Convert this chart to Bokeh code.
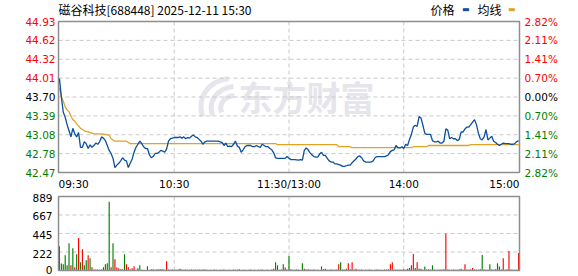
from bokeh.plotting import figure
from bokeh.models import Range1d, Label
from bokeh.layouts import column
from bokeh.embed import file_html
from bokeh.resources import INLINE

# ---------------- data ----------------
price = [
    44.00, 43.70, 43.45, 43.37, 43.25, 43.15, 43.05, 43.19, 43.10, 43.05,
    43.12, 42.88, 42.88, 42.97, 42.94, 42.86, 42.92, 42.88, 42.91, 42.95,
    42.93, 42.97, 43.05, 43.03, 42.99, 42.91, 42.83, 42.78, 42.70, 42.55,
    42.59, 42.62, 42.66, 42.71, 42.67, 42.66, 42.55, 42.62, 42.69, 42.80,
    42.88, 42.93, 42.98, 42.94, 42.89, 42.86, 42.86, 42.76, 42.71, 42.73,
    42.78, 42.78, 42.80, 42.83, 42.82, 42.80, 42.85, 42.98, 43.02, 43.03,
    43.04, 43.04, 43.04, 43.05, 43.03, 43.05, 43.02, 43.04, 43.03, 43.06,
    43.08, 43.05, 43.04, 43.01, 42.98, 42.93, 42.97, 42.98, 42.98, 42.98,
    42.98, 42.98, 42.98, 42.98, 42.97, 42.96, 42.91, 42.95, 42.89, 42.90,
    42.89, 42.93, 42.98, 42.90, 42.88, 42.80, 42.84, 42.89, 42.91, 42.91,
    42.91, 42.89, 42.89, 42.91, 42.89, 42.88, 42.93, 42.91, 42.89, 42.89,
    42.86, 42.84, 42.79, 42.71, 42.70, 42.70, 42.70, 42.70, 42.70, 42.73,
    42.70, 42.68, 42.68, 42.68, 42.675, 42.67, 42.68, 42.67, 42.83, 42.87,
    42.84, 42.79, 42.76, 42.73, 42.72, 42.72, 42.77, 42.80, 42.75, 42.75,
    42.70, 42.66, 42.64, 42.64, 42.61, 42.61, 42.60, 42.59, 42.57, 42.57,
    42.58, 42.59, 42.59, 42.63, 42.66, 42.69, 42.73, 42.74, 42.71, 42.66,
    42.64, 42.64, 42.64, 42.64, 42.66, 42.71, 42.73, 42.73, 42.73, 42.73,
    42.73, 42.74, 42.76, 42.81, 42.83, 42.84, 42.91, 42.87, 42.87, 42.89,
    42.86, 42.93, 42.91, 43.01, 43.09, 43.21, 43.24, 43.22, 43.38, 43.36,
    43.24, 43.11, 43.09, 43.09, 43.09, 42.99, 42.97, 42.97, 42.98, 42.95,
    42.95, 42.98, 43.18, 43.16, 43.02, 43.04, 43.02, 43.02, 42.99, 43.01,
    43.13, 43.13, 43.18, 43.21, 43.21, 43.25, 43.29, 43.33, 43.25, 43.11,
    43.02, 43.00, 43.05, 43.17, 43.00, 43.03, 43.06, 42.98, 42.96, 42.93,
    42.91, 42.93, 42.95, 42.94, 42.94, 42.94, 42.93, 42.93, 42.94, 42.97,
    42.99,
]

avg_price = [
    43.85, 43.70, 43.63, 43.54, 43.49, 43.46, 43.39, 43.33, 43.31, 43.26,
    43.23, 43.19, 43.17, 43.15, 43.14, 43.13, 43.12, 43.11, 43.10, 43.10,
    43.10, 43.10, 43.10, 43.095, 43.09, 43.085, 43.075, 43.02, 43.00, 42.98,
    42.98, 42.98, 42.98, 42.98, 42.98, 42.98, 42.96, 42.94, 42.94, 42.94,
    42.94, 42.94, 42.94, 42.94, 42.94, 42.94, 42.94, 42.94, 42.94, 42.94,
    42.94, 42.94, 42.94, 42.94, 42.94, 42.94, 42.94, 42.94, 42.94, 42.94,
    42.94, 42.94, 42.94, 42.94, 42.94, 42.94, 42.94, 42.94, 42.94, 42.94,
    42.94, 42.94, 42.94, 42.94, 42.94, 42.94, 42.94, 42.94, 42.94, 42.94,
    42.94, 42.94, 42.94, 42.94, 42.94, 42.94, 42.94, 42.94, 42.94, 42.94,
    42.94, 42.94, 42.94, 42.94, 42.94, 42.94, 42.94, 42.94, 42.94, 42.94,
    42.94, 42.94, 42.94, 42.94, 42.94, 42.94, 42.94, 42.94, 42.94, 42.94,
    42.94, 42.94, 42.94, 42.94, 42.925, 42.925, 42.925, 42.925, 42.925, 42.925,
    42.925, 42.925, 42.925, 42.925, 42.925, 42.925, 42.925, 42.925, 42.925, 42.925,
    42.925, 42.925, 42.925, 42.925, 42.925, 42.925, 42.925, 42.925, 42.925, 42.925,
    42.925, 42.925, 42.925, 42.925, 42.925, 42.925, 42.89, 42.89, 42.89, 42.89,
    42.89, 42.89, 42.89, 42.875, 42.875, 42.875, 42.875, 42.875, 42.875, 42.875,
    42.875, 42.875, 42.875, 42.875, 42.875, 42.875, 42.875, 42.875, 42.875, 42.875,
    42.875, 42.875, 42.875, 42.875, 42.875, 42.875, 42.875, 42.875, 42.875, 42.875,
    42.875, 42.875, 42.875, 42.875, 42.875, 42.89, 42.89, 42.89, 42.89, 42.89,
    42.89, 42.89, 42.89, 42.91, 42.91, 42.91, 42.91, 42.91, 42.91, 42.91,
    42.91, 42.91, 42.91, 42.91, 42.91, 42.91, 42.91, 42.91, 42.91, 42.91,
    42.91, 42.91, 42.91, 42.91, 42.91, 42.925, 42.925, 42.925, 42.925, 42.925,
    42.925, 42.925, 42.925, 42.925, 42.925, 42.925, 42.925, 42.925, 42.925, 42.925,
    42.925, 42.925, 42.925, 42.925, 42.925, 42.925, 42.925, 42.925, 42.925, 42.925,
    42.925,
]

volume = [
    292, 84, 76, 184, 64, 328, 64, 268, 40, 196,
    390, 100, 256, 64, 124, 184, 148, 40, 12, 12,
    12, 10, 12, 40, 76, 88, 825, 40, 328, 136,
    40, 28, 16, 14, 196, 76, 40, 16, 28, 52,
    8, 28, 64, 8, 4, 4, 52, 4, 16, 16,
    8, 16, 16, 16, 16, 10, 112, 12, 10, 12,
    8, 10, 12, 20, 12, 10, 12, 10, 8, 12,
    10, 12, 8, 12, 10, 12, 12, 8, 6, 10,
    4, 12, 8, 6, 10, 8, 12, 6, 10, 8,
    4, 12, 10, 8, 14, 6, 10, 8, 6, 10,
    12, 6, 8, 4, 10, 8, 12, 6, 10, 8,
    6, 12, 20, 99, 62, 8, 12, 74, 37, 12,
    173, 14, 10, 8, 12, 10, 6, 86, 20, 12,
    14, 10, 8, 12, 10, 8, 6, 49, 14, 20,
    8, 10, 12, 10, 8, 12, 74, 99, 12, 10,
    20, 86, 14, 99, 12, 20, 8, 10, 12, 6,
    10, 8, 12, 10, 6, 8, 12, 10, 8, 6,
    12, 10, 14, 74, 99, 12, 10, 8, 12, 10,
    14, 8, 20, 30, 62, 197, 30, 99, 20, 20,
    10, 49, 12, 15, 10, 62, 12, 10, 8, 12,
    10, 14, 444, 12, 10, 8, 12, 10, 8, 12,
    20, 10, 74, 12, 10, 14, 30, 12, 10, 8,
    14, 185, 12, 10, 8, 74, 12, 10, 14, 86,
    49, 12, 148, 10, 14, 234, 12, 10, 8, 10,
    210,
]

# r = up minute (red), g = down minute (green)
vol_dir = (
    "rgggggrgrg" "rgrggrgrgr" "rrgggggrgr" "rrgggrrrrr" "gggrrggrrr"
    "rrrrgrrrrr" "rrrggggrrr" "gggggrrrgr" "grgggggrgr" "grrgggrrrg"
    "rggrggrggg" "gggggrggrg" "ggrrggrgrr" "gggggrrggg" "gggrggrggr"
    "rrgrrrrrgg" "grrgrrrgrr" "rrrrrrrgrr" "grgrrrgrrg" "gggrgggrgr"
    "rrrgrgrgrr" "rrrrrrrrgg" "ggrrggrggg" "grrgrrggrr" "r"
)

minutes = list(range(len(price)))

price_ticks = [44.93, 44.6225, 44.315, 44.0075, 43.70, 43.3925, 43.085, 42.7775, 42.47]
price_labels = ["44.93", "44.62", "44.32", "44.01", "43.70", "43.39", "43.08", "42.78", "42.47"]
pct_labels = ["2.82%", "2.11%", "1.41%", "0.70%", "0.00%", "0.70%", "1.41%", "2.11%", "2.82%"]
tick_colors = ["#ff0000"] * 4 + ["#000000"] + ["#008000"] * 4

time_ticks = [0, 60, 120, 180, 240]
time_labels = ["09:30", "10:30", "11:30/13:00", "14:00", "15:00"]

vol_ticks = [0, 222, 445, 667, 889]
vol_labels = ["0", "222", "445", "667", "889"]

title_text = "磁谷科技[688448] 2025-12-11 15:30"

# ---------------- styling / layout (pixels) ----------------
BLUE = "#0c4f9f"
ORANGE = "#e0a326"
RED = "#ff0000"
GREEN = "#008000"
GRID = "#c9c9c9"
FRAME = "#8e8e8e"
WM = "#e5e5eb"
NUM_FONT = "DejaVu Sans"
NUM_SIZE = "10.5px"
CJK = "Noto Sans CJK SC"

W = 578
BOX_L, BOX_R = 58, 519          # plot box, px from left
H1, BOX1_T, BOX1_B = 190, 21, 172
H2, BOX2_T, BOX2_B = 86, 6, 80

X0, X1 = -0.5, 240.5
PMIN, PMAX = price_ticks[-1], price_ticks[0]
VMIN, VMAX = vol_ticks[0], vol_ticks[-1]

ux = (X1 - X0) / (BOX_R - BOX_L)          # data units per px (x)
up = (PMAX - PMIN) / (BOX1_B - BOX1_T)    # price per px
uv = (VMAX - VMIN) / (BOX2_B - BOX2_T)    # volume per px

xr = Range1d(X0 - BOX_L * ux, X1 + (W - BOX_R) * ux)


def make_fig(h, ymin, ymax):
    f = figure(width=W, height=h, x_range=xr, y_range=Range1d(ymin, ymax),
               output_backend="svg", toolbar_location=None,
               x_axis_location=None, y_axis_location=None,
               min_border=0, min_border_left=0, min_border_right=0,
               min_border_top=0, min_border_bottom=0)
    f.title.visible = False
    f.outline_line_color = None
    f.grid.visible = False
    f.background_fill_color = "white"
    f.border_fill_color = "white"
    return f


def lab(f, x, y, text, align, color="#000000", font=NUM_FONT, size=NUM_SIZE, xo=0, yo=0, **kw):
    f.add_layout(Label(x=x, y=y, x_offset=xo, y_offset=yo, text=text, text_align=align,
                       text_baseline="middle", text_font=font, text_font_size=size,
                       text_color=color, **kw))


def grids(f, ymin, ymax, yt):
    vx = time_ticks[1:-1]
    f.segment(x0=vx, x1=vx, y0=[ymin] * len(vx), y1=[ymax] * len(vx),
              line_color=GRID, line_dash="4 3", line_width=1)
    f.segment(x0=[X0] * len(yt), x1=[X1] * len(yt), y0=yt, y1=yt,
              line_color=GRID, line_dash="4 3", line_width=1)


# ---------------- price panel ----------------
p = make_fig(H1, PMIN - (H1 - BOX1_B) * up, PMAX + BOX1_T * up)

# watermark (brand logo strokes + text)
def px2x(px):
    return X0 + (px - BOX_L) * ux


def px2p(py):
    return PMAX - (py - BOX1_T) * up


p.bezier(x0=[px2x(202), px2x(212), px2x(221)], y0=[px2p(116), px2p(115), px2p(112)],
         x1=[px2x(228), px2x(233), px2x(234)], y1=[px2p(78), px2p(86), px2p(95)],
         cx0=[px2x(196), px2x(207), px2x(218)], cy0=[px2p(96), px2p(100), px2p(103)],
         cx1=[px2x(208), px2x(217), px2x(224)], cy1=[px2p(81), px2p(88), px2p(96)],
         line_color=WM, line_width=5, level="image")
lab(p, px2x(238), px2p(96), "东方财富", "left", color=WM, font=CJK, size="34px",
    text_font_style="bold", level="image")

grids(p, PMIN, PMAX, price_ticks[1:-1])
p.quad(left=[X0], right=[X1], bottom=[PMIN], top=[PMAX], fill_color=None,
       line_color=FRAME, line_width=1.5)

p.line(minutes, avg_price, color=ORANGE, line_width=1.3)
p.line(minutes, price, color=BLUE, line_width=1.3)

for t, pl, pc, c in zip(price_ticks, price_labels, pct_labels, tick_colors):
    lab(p, X0, t, pl, "right", color=c, xo=-3)
    lab(p, X1, t, pc, "left", color=c, xo=5)

for i, (t, tl) in enumerate(zip(time_ticks, time_labels)):
    if i == 0:
        xx, al = X0, "left"
    elif i == len(time_ticks) - 1:
        xx, al = X1, "right"
    else:
        xx, al = t, "center"
    lab(p, xx, PMIN, tl, al, yo=-11)

# title and legend
lab(p, X0, PMAX, title_text, "left", font=CJK, size="12px", yo=12.5)
lab(p, X1, PMAX, "价格", "left", font=CJK, size="12px", xo=-89, yo=12)
lab(p, X1, PMAX, "▬", "left", color=BLUE, size="8px", xo=-57.5, yo=12)
lab(p, X1, PMAX, "均线", "left", font=CJK, size="12px", xo=-42, yo=12)
lab(p, X1, PMAX, "▬", "left", color=ORANGE, size="8px", xo=-11.5, yo=12)

# ---------------- volume panel ----------------
v = make_fig(H2, VMIN - (H2 - BOX2_B) * uv, VMAX + BOX2_T * uv)
grids(v, VMIN, VMAX, vol_ticks[1:-1])

bar_colors = [RED if d == "r" else GREEN for d in vol_dir]
v.vbar(x=minutes, top=volume, bottom=0, width=0.6, fill_color=bar_colors, line_color=None)
v.quad(left=[X0], right=[X1], bottom=[VMIN], top=[VMAX], fill_color=None,
       line_color=FRAME, line_width=1.5)

for t, vl in zip(vol_ticks, vol_labels):
    lab(v, X0, t, vl, "right", xo=-6, yo=(1 if t == VMIN else -1.5))

layout = column(p, v, spacing=0)
open("out.html", "w").write(file_html(layout, INLINE))
